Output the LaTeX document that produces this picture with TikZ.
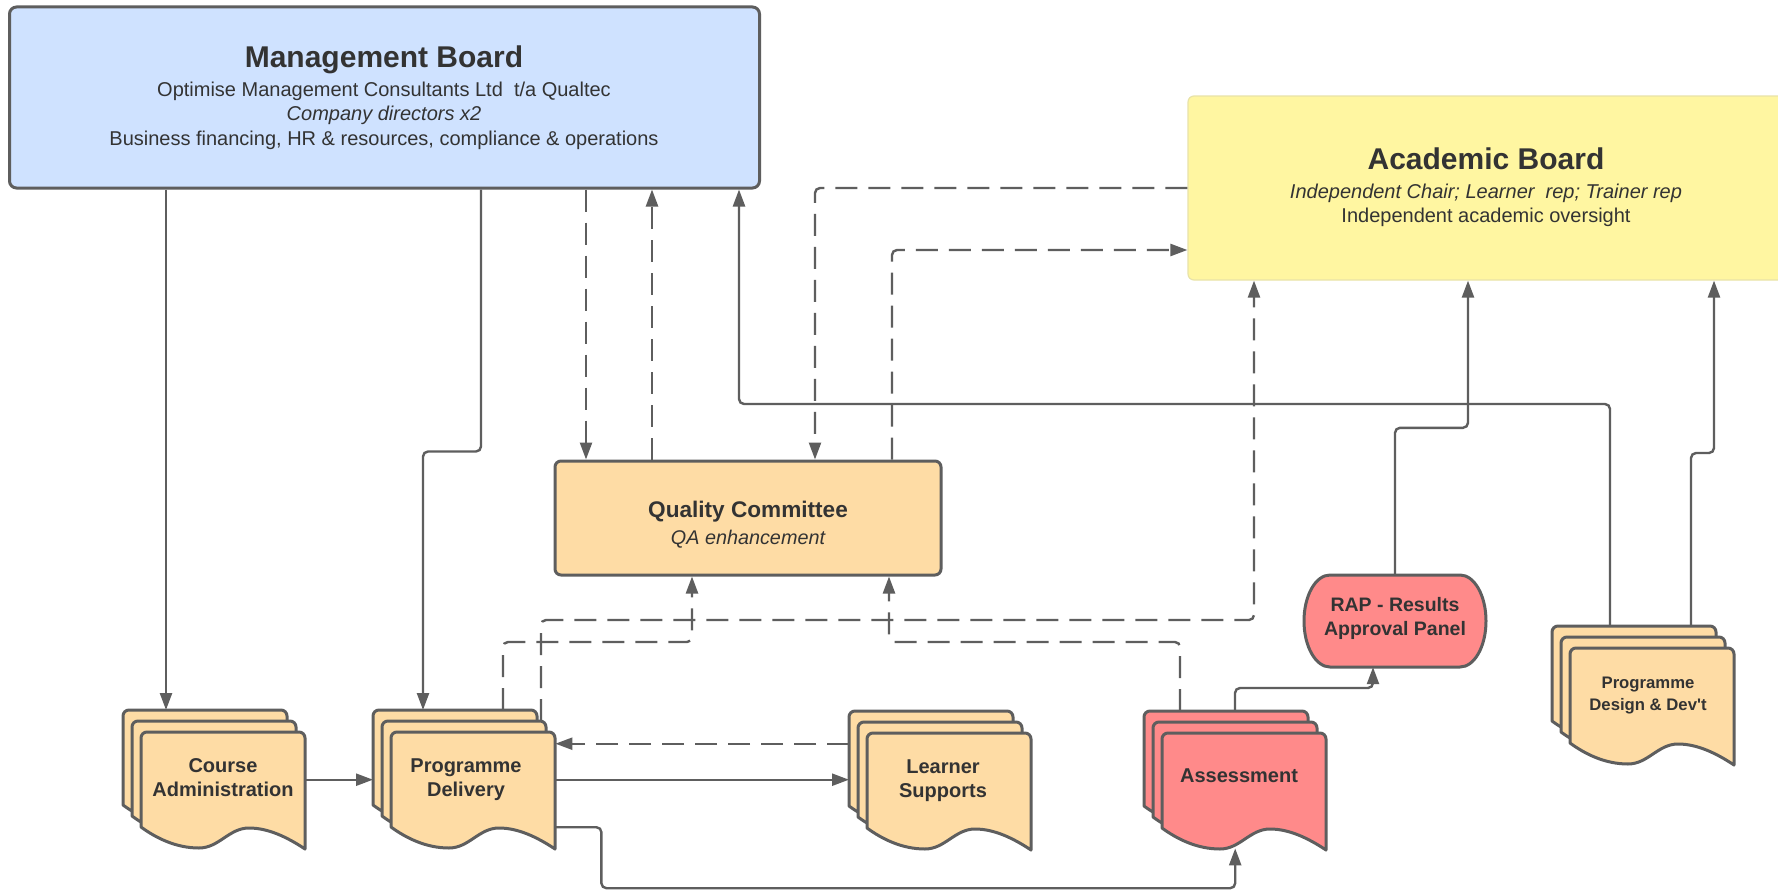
\documentclass[tikz,border=0pt]{standalone}
\usepackage{fontspec}
\setmainfont{Liberation Sans}
\newfontfamily\rawsans{Liberation Sans}[Ligatures=TeXOff]
\usetikzlibrary{arrows.meta,calc}
\definecolor{lineg}{HTML}{5E5E5E}
\definecolor{txt}{HTML}{333333}
\definecolor{mbfill}{HTML}{CFE2FF}
\definecolor{abfill}{HTML}{FFF6A1}
\definecolor{abedge}{HTML}{E8E3A8}
\definecolor{peach}{HTML}{FEDCA5}
\definecolor{redf}{HTML}{FF8A8A}

\newcommand{\docpage}[3]{%
  \filldraw[fill=#3,draw=lineg,line width=3pt,line join=round]
   (#1,#2+95) -- (#1,#2+6) .. controls (#1,#2+2.7) and (#1+2.7,#2) .. (#1+6,#2)
   -- (#1+158,#2) .. controls (#1+161.3,#2) and (#1+164,#2+2.7) .. (#1+164,#2+6)
   -- (#1+164,#2+117)
   .. controls (#1+146,#2+105) and (#1+127,#2+96) .. (#1+108,#2+96)
   .. controls (#1+88,#2+96) and (#1+78,#2+116) .. (#1+58,#2+116)
   .. controls (#1+35,#2+116) and (#1+15,#2+106) .. (#1,#2+95) -- cycle;}
\newcommand{\docstack}[3]{\docpage{#1}{#2}{#3}\docpage{#1+9}{#2+11}{#3}\docpage{#1+18}{#2+22}{#3}}

\tikzset{
  conn/.style={draw=lineg, line width=2.4pt, rounded corners=5pt},
  dconn/.style={conn, dash pattern=on 22pt off 11pt},
  arr/.style={-{Triangle[length=17pt,width=12pt]}},
  stackbox/.style={anchor=north west, minimum width=182pt, minimum height=139pt, inner sep=0pt},
  tx/.style={text=txt, anchor=base, inner sep=0pt},
  bigtitle/.style={tx, font=\fontsize{30}{36}\selectfont\bfseries},
  body/.style={tx, font=\fontsize{20}{24}\selectfont},
  bodyit/.style={tx, font=\fontsize{20}{24}\selectfont\itshape},
  doclbl/.style={tx, font=\fontsize{20}{24}\selectfont\bfseries},
}

\begin{document}
\begin{tikzpicture}[x=1pt,y=-1pt]
\useasboundingbox (0,0) rectangle (1778,891);
\fill[white] (0,0) rectangle (1778,891);

% ---------- boxes ----------
\node[draw=lineg, fill=mbfill, line width=3pt, rounded corners=7pt,
      minimum width=750pt, minimum height=181pt, inner sep=0pt] (mb) at (384.5,97.5) {};
\node[bigtitle] (mbT) at (384,68) {Management Board};
\node[body] (mb1) at (384,96.6) {Optimise Management Consultants Ltd\ \ t/a Qualtec};
\node[bodyit] (mb2) at (384,120.5) {Company directors x2};
\node[body] (mb3) at (384,145.3) {Business financing, HR \& resources, compliance \& operations};

\node[draw=abedge, fill=abfill, line width=1.2pt, rounded corners=6pt,
      minimum width=597pt, minimum height=184pt, inner sep=0pt] (ab) at (1486.5,188) {};
\node[bigtitle] (abT) at (1486,169.5) {Academic Board};
\node[bodyit] (ab1) at (1486,198.6) {Independent Chair; Learner\ \ rep; Trainer rep};
\node[body] (ab2) at (1486,222.5) {Independent academic oversight};

\node[draw=lineg, fill=peach, line width=3pt, rounded corners=6pt,
      minimum width=386pt, minimum height=114pt, inner sep=0pt] (qc) at (748,518) {};
\node[tx, font=\fontsize{22.6}{27}\selectfont\bfseries] (qcT) at (748,517) {Quality Committee};
\node[tx, font=\fontsize{19.8}{24}\selectfont\itshape] (qc1) at (748,544) {QA enhancement};

% RAP terminator
\filldraw[fill=redf, draw=lineg, line width=3pt]
  (1330,575) -- (1460,575)
  .. controls (1474.4,575) and (1486,595.6) .. (1486,621)
  .. controls (1486,646.4) and (1474.4,667) .. (1460,667)
  -- (1330,667)
  .. controls (1315.6,667) and (1304,646.4) .. (1304,621)
  .. controls (1304,595.6) and (1315.6,575) .. (1330,575) -- cycle;
\node[minimum width=182pt, minimum height=92pt, inner sep=0pt] (rap) at (1395,621) {};
\node[tx, font=\fontsize{19.5}{24}\selectfont\bfseries] (rap1) at (1395,611.5) {RAP - Results};
\node[tx, font=\fontsize{19.5}{24}\selectfont\bfseries] (rap2) at (1395,635) {Approval Panel};

% ---------- document stacks ----------
\docstack{123}{710}{peach}
\node[stackbox] (ca) at (123,710) {};
\node[doclbl] (ca1) at (223,772) {Course};
\node[doclbl] (ca2) at (223,796) {Administration};

\docstack{373}{710}{peach}
\node[stackbox] (pd) at (373,710) {};
\node[doclbl] (pd1) at (466,772) {Programme};
\node[doclbl] (pd2) at (466,796) {Delivery};

\docstack{849}{711}{peach}
\node[stackbox] (ls) at (849,711) {};
\node[doclbl] (ls1) at (943,773) {Learner};
\node[doclbl] (ls2) at (943,797) {Supports};

\docstack{1144}{711}{redf}
\node[stackbox] (as) at (1144,711) {};
\node[doclbl] (as1) at (1239,782) {Assessment};

\docstack{1552}{626}{peach}
\node[stackbox] (pdd) at (1552,626) {};
\node[tx, font=\fontsize{16.7}{20}\selectfont\bfseries] (pdd1) at (1648,688.5) {Programme};
\node[tx, font=\rawsans\fontsize{16.7}{20}\selectfont\bfseries] (pdd2) at (1648,710) {Design \& Dev't};

% ---------- ports ----------
\coordinate (caIn) at ([xshift=43pt]ca.north west);
\coordinate (pdIn) at ([xshift=50pt]pd.north west);
\coordinate (pdQ)  at ([xshift=130pt]pd.north west);
\coordinate (pdA)  at ([xshift=168pt,yshift=-11pt]pd.north west);
\coordinate (asQ)  at ([xshift=36pt]as.north west);
\coordinate (asR)  at ([xshift=91pt]as.north west);
\coordinate (pddM) at ([xshift=58pt]pdd.north west);
\coordinate (pddA) at ([xshift=139pt]pdd.north west);
\coordinate (q3)  at ([xshift=-162pt]qc.north);
\coordinate (q4)  at ([xshift=-96pt]qc.north);
\coordinate (q6)  at ([xshift=67pt]qc.north);
\coordinate (q7)  at ([xshift=144pt]qc.north);
\coordinate (q8)  at ([xshift=-56pt]qc.south);
\coordinate (q10) at ([xshift=141pt]qc.south);
\coordinate (m2)  at ([xshift=96.5pt]mb.south);
\coordinate (m5)  at ([xshift=354.5pt]mb.south);
\coordinate (a7)  at ([yshift=-62pt]ab.west);
\coordinate (a9)  at ([xshift=-232.5pt]ab.south);
\coordinate (a16) at ([xshift=-18.5pt]ab.south);
\coordinate (a17) at ([xshift=227.5pt]ab.south);
\coordinate (r15) at ([xshift=-22pt]rap.south);
\coordinate (asB) at ([yshift=2pt]as.south);

% ---------- connectors ----------
\draw[conn,arr] (caIn |- mb.south) -- (caIn);
\draw[conn,arr] (m2) -- ++(0,262) -| (pdIn);
\draw[dconn,arr] (q3 |- mb.south) -- (q3);
\draw[dconn,arr] (q4) -- (q4 |- mb.south);
\draw[conn,arr] (pddM) -- ++(0,-222) -| (m5);
\draw[dconn,arr] (ab.west) -| (q6);
\draw[dconn,arr] (q7) |- (a7);
\draw[dconn,arr] (pdQ) -- ++(0,-68) -| (q8);
\draw[dconn,arr] (pdA) -- ++(0,-101) -| (a9);
\draw[dconn,arr] (asQ) -- ++(0,-69) -| (q10);
\draw[dconn,arr] ([yshift=37pt]ls.west) -- ([yshift=37pt]ls.west -| pd.east);
\draw[conn,arr] (pd.east) -- (pd.east -| ls.west);
\draw[conn,arr] (ca.east) -- (pd.west);
\draw[conn,arr] ([yshift=-47.5pt]pd.east) -- ++(46,0) -- ++(0,61) -| (asB);
\draw[conn,arr] (asR) -- ++(0,-23) -| (r15);
\draw[conn,arr] (rap.north) -- ++(0,-147) -| (a16);
\draw[conn,arr] (pddA) -- ++(0,-173) -| (a17);
\end{tikzpicture}
\end{document}
